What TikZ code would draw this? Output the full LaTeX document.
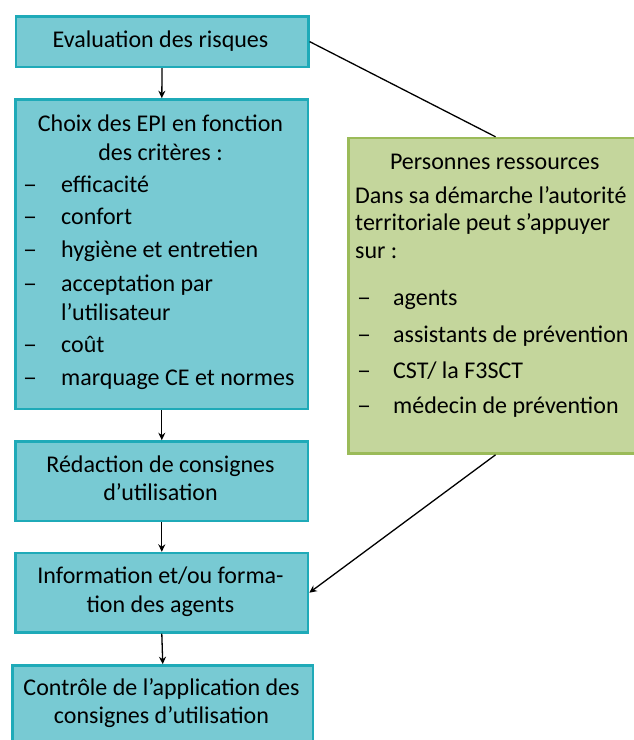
\documentclass[tikz,border=0pt]{standalone}
\usepackage{fontspec}
\setmainfont{Carlito}
\usetikzlibrary{arrows.meta}
\definecolor{tealfill}{HTML}{78CAD3}
\definecolor{tealline}{HTML}{1FAAB8}
\definecolor{greenfill}{HTML}{C4D69C}
\definecolor{greenline}{HTML}{9BBB59}
\newcommand{\mydash}{\scalebox{1.17}[1]{–}}
\begin{document}
\begin{tikzpicture}[x=1pt,y=-1pt,
  tbox/.style={draw=tealline,fill=tealfill,line width=2.5pt,inner sep=0pt,anchor=north west},
  gbox/.style={draw=greenline,fill=greenfill,line width=2.5pt,inner sep=0pt,anchor=north west},
  txt/.style={anchor=base,inner sep=0pt,font=\fontsize{24}{29}\selectfont,yshift=-0.8pt},
  txtl/.style={txt,anchor=base west},
  conn/.style={line width=1.3pt},
  arr/.style={conn,-{Stealth[length=7.5pt,width=7pt]}}]
\useasboundingbox (0,0) rectangle (634,740);
% boxes
\node[tbox,minimum width=292.6pt,minimum height=50.3pt] (b1) at (14.5,15.2) {};
\node[tbox,minimum width=292.5pt,minimum height=309.6pt] (b2) at (14.3,98.2) {};
\node[tbox,minimum width=292.5pt,minimum height=79.3pt] (b3) at (14.3,440.2) {};
\node[tbox,minimum width=292.5pt,minimum height=79.3pt] (b4) at (14.3,551.8) {};
\node[tbox,minimum width=300.4pt,minimum height=100pt] (b5) at (11.3,664.2) {};
\node[gbox,minimum width=294.6pt,minimum height=315.5pt] (g) at (347,136.8) {};
% box 1
\node[txt] (t1) at (160.5,46.7) {Evaluation des risques};
% box 2
\node[txt] (t2a) at (160.5,131) {Choix des EPI en fonction};
\node[txt] (t2b) at (160.5,160) {des critères :};
\foreach \y/\s [count=\i] in {191.7/efficacité,224/confort,256.7/hygiène et entretien,291/acceptation par,351.7/coût,385/marquage CE et normes}{
  \node[txtl] (d2\i) at (23,\y) {\mydash};
  \node[txtl] (i2\i) at (61,\y) {\s};
}
\node[txtl] (i2x) at (61,320) {l’utilisateur};
% box 3
\node[txt] (t3a) at (160.5,471.7) {Rédaction de consignes};
\node[txt] (t3b) at (160.5,500) {d’utilisation};
% box 4
\node[txt] (t4a) at (160.5,583) {Information et/ou forma-};
\node[txt] (t4b) at (160.5,611.7) {tion des agents};
% box 5
\node[txt] (t5a) at (161.5,695) {Contrôle de l’application des};
\node[txt] (t5b) at (161.5,723) {consignes d’utilisation};
% green box
\node[txt] (ga) at (494.7,168.3) {Personnes ressources};
\node[txtl] (gb) at (355,203) {Dans sa démarche l’autorité};
\node[txtl] (gc) at (355,230) {territoriale peut s’appuyer};
\node[txtl] (gd) at (355,257.7) {sur :};
\foreach \y/\s [count=\i] in {305/agents,341.7/assistants de prévention,378/{CST/ la F3SCT},413/médecin de prévention}{
  \node[txtl] (dg\i) at (357,\y) {\mydash};
  \node[txtl] (ig\i) at (393,\y) {\s};
}
% connectors
\draw[arr] (b1.south) -- (b2.north);
\draw[arr] (b2.south) -- (b3.north);
\draw[arr] (b3.south) -- (b4.north);
\draw[arr] (b4.south) -- (b5.north);
\draw[conn] (b1.east) -- (g.north);
\draw[arr] (g.south) -- (b4.east);
\end{tikzpicture}
\end{document}
